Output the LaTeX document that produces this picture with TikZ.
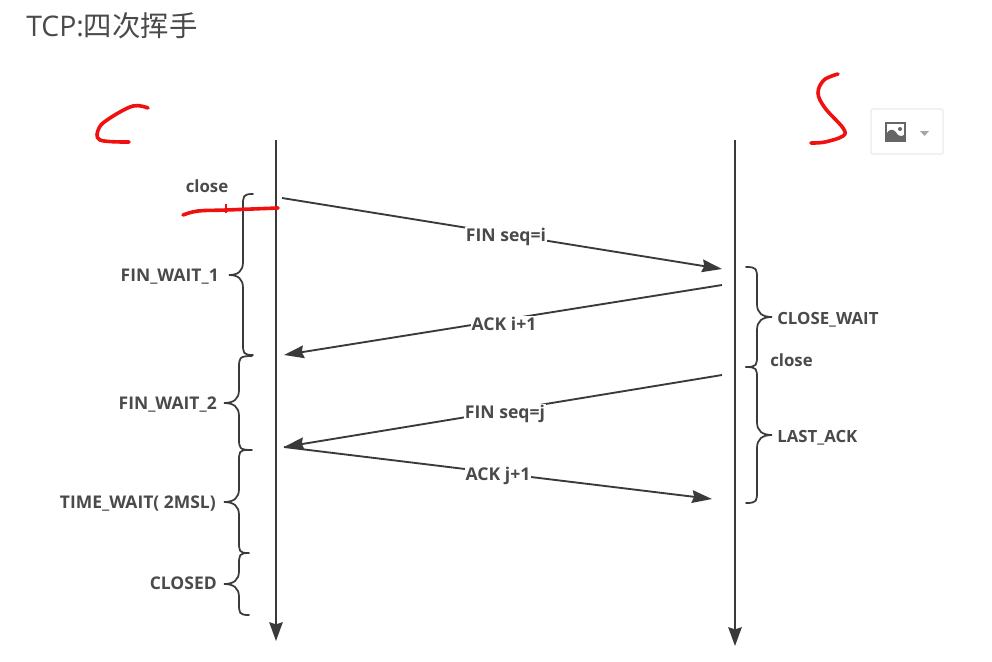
\documentclass[tikz,border=0pt]{standalone}
\usepackage{fontspec}
\setmainfont{Open Sans}
\newfontfamily\cjk{Noto Sans CJK SC}
\usetikzlibrary{arrows.meta}
\definecolor{inkgray}{HTML}{3A3A3A}
\definecolor{labelgray}{HTML}{4A4A4A}
\definecolor{penred}{HTML}{F01010}
\tikzset{
    lifeline/.style={draw=inkgray,line width=1.6pt,-{Stealth[length=14pt,width=10pt,inset=1.5pt]}},
    msgline/.style={draw=inkgray,line width=1.4pt,-{Stealth[length=15pt,width=9.5pt,inset=1.5pt]}},
    msglabel/.style={fill=white,inner sep=0.8pt,text=labelgray,font=\bfseries\fontsize{13.2}{15}\selectfont},
    statelabel/.style={inner sep=0pt,text=labelgray,font=\bfseries\fontsize{12.6}{14}\selectfont},
    statewide/.style={statelabel,font=\bfseries\fontsize{13.1}{15}\selectfont},
    bracel/.style={draw=inkgray,line width=1.3pt,line cap=round},
    redpen/.style={draw=penred,line width=2.7pt,line cap=round,line join=round},
}
% end x, spine x, tip x, top y, tip y, bottom y
\newcommand{\statebrace}[6]{%
    \draw[bracel] (#1,#4) .. controls (#2,#4) and (#2,#4+2) .. (#2,#4+12) -- (#2,#5-13)
        .. controls (#2,#5-4) and (#2+0.35*#3-0.35*#2,#5) .. (#3,#5)
        .. controls (#2+0.35*#3-0.35*#2,#5) and (#2,#5+4) .. (#2,#5+13)
        -- (#2,#6-12) .. controls (#2,#6-2) and (#2,#6) .. (#1,#6);}
\begin{document}
\begin{tikzpicture}[x=0.75pt,y=-0.75pt]
    \useasboundingbox[fill=white] (0,0) rectangle (992,661);
    \node (title) at (26,26) [anchor=west,inner sep=0pt,text=labelgray,font=\fontsize{21.3}{24}\selectfont] {TCP:{\cjk 四次挥手}}; % title

    % lifelines
    \coordinate (ctop) at (276,140);
    \coordinate (cend) at (276,641);
    \coordinate (stop) at (735,140);
    \coordinate (send) at (735,646);
    \draw[lifeline] (ctop) -- (cend);
    \draw[lifeline] (stop) -- (send);

    % messages
    \coordinate (m1a) at (282,198);
    \coordinate (m1b) at (722,269);
    \coordinate (m2a) at (722,285);
    \coordinate (m2b) at (284,355);
    \coordinate (m3a) at (722,375);
    \coordinate (m3b) at (284,447);
    \coordinate (m4b) at (712,499);
    \draw[msgline] (m1a) -- (m1b);
    \draw[msgline] (m2a) -- (m2b);
    \draw[msgline] (m3a) -- (m3b);
    \draw[msgline] (m3b) -- (m4b);
    \node (fini) at (506,237) [msglabel] {FIN seq=i};
    \node (acki) at (504,324) [msglabel] {ACK i+1};
    \node (finj) at (505,414) [msglabel] {FIN seq=j};
    \node (ackj) at (498,476) [msglabel] {ACK j+1};

    % braces, client side
    \statebrace{253}{243}{229}{194}{275}{355}
    \statebrace{252}{239}{224}{356}{403}{450}
    \statebrace{248}{239}{224}{450}{502}{553}
    \statebrace{249}{239}{224}{553}{584}{615}
    % braces, server side
    \statebrace{746}{757}{772}{267}{317}{367}
    \statebrace{746}{757}{772}{367}{435}{503}

    % states
    \node (closec) at (207,186) [statelabel] {close};
    \node (fw1) at (219,277) [statewide,anchor=east] {FIN\_WAIT\_1};
    \node (fw2) at (217,405) [statewide,anchor=east] {FIN\_WAIT\_2};
    \node (tw) at (216,504) [statewide,anchor=east] {TIME\_WAIT( 2MSL)};
    \node (closed) at (217,583) [statewide,anchor=east] {CLOSED};
    \node (cw) at (777,320) [statelabel,anchor=west] {CLOSE\_WAIT};
    \node (closes) at (770,360) [statelabel,anchor=west] {close};
    \node (la) at (777,438) [statelabel,anchor=west] {LAST\_ACK};

    % red pen marks
    \draw[redpen] plot[smooth,tension=0.6] coordinates {(148,108) (133,106) (110,118) (99,128) (100,140) (129,142)};
    \draw[redpen] plot[smooth,tension=0.6] coordinates {(838,74) (824,80) (818,93) (825,108) (843,128) (843,136) (825,142) (811,143)};
    \draw[redpen] plot[smooth,tension=0.6] coordinates {(183,215) (198,211) (226,210) (278,208)};
    \draw[draw=penred,line width=0.8pt] (226,204) -- (226,213);

    % image button
    \draw[draw=black!8,fill=white,line width=1pt,rounded corners=1.5pt] (871,109) rectangle (943,154);
    \draw[draw=black!60,line width=1pt] (886,123) rectangle (905,141);
    \fill[black!60] (887,140) -- (887,133) .. controls (891,127) and (895,130) .. (898,135) .. controls (900,137) and (903,136) .. (904,135) -- (904,140) -- cycle;
    \fill[black!60] (900,129) circle[radius=2];
    \fill[black!35] (920,131) -- (929,131) -- (924.5,136) -- cycle;
\end{tikzpicture}
\end{document}
